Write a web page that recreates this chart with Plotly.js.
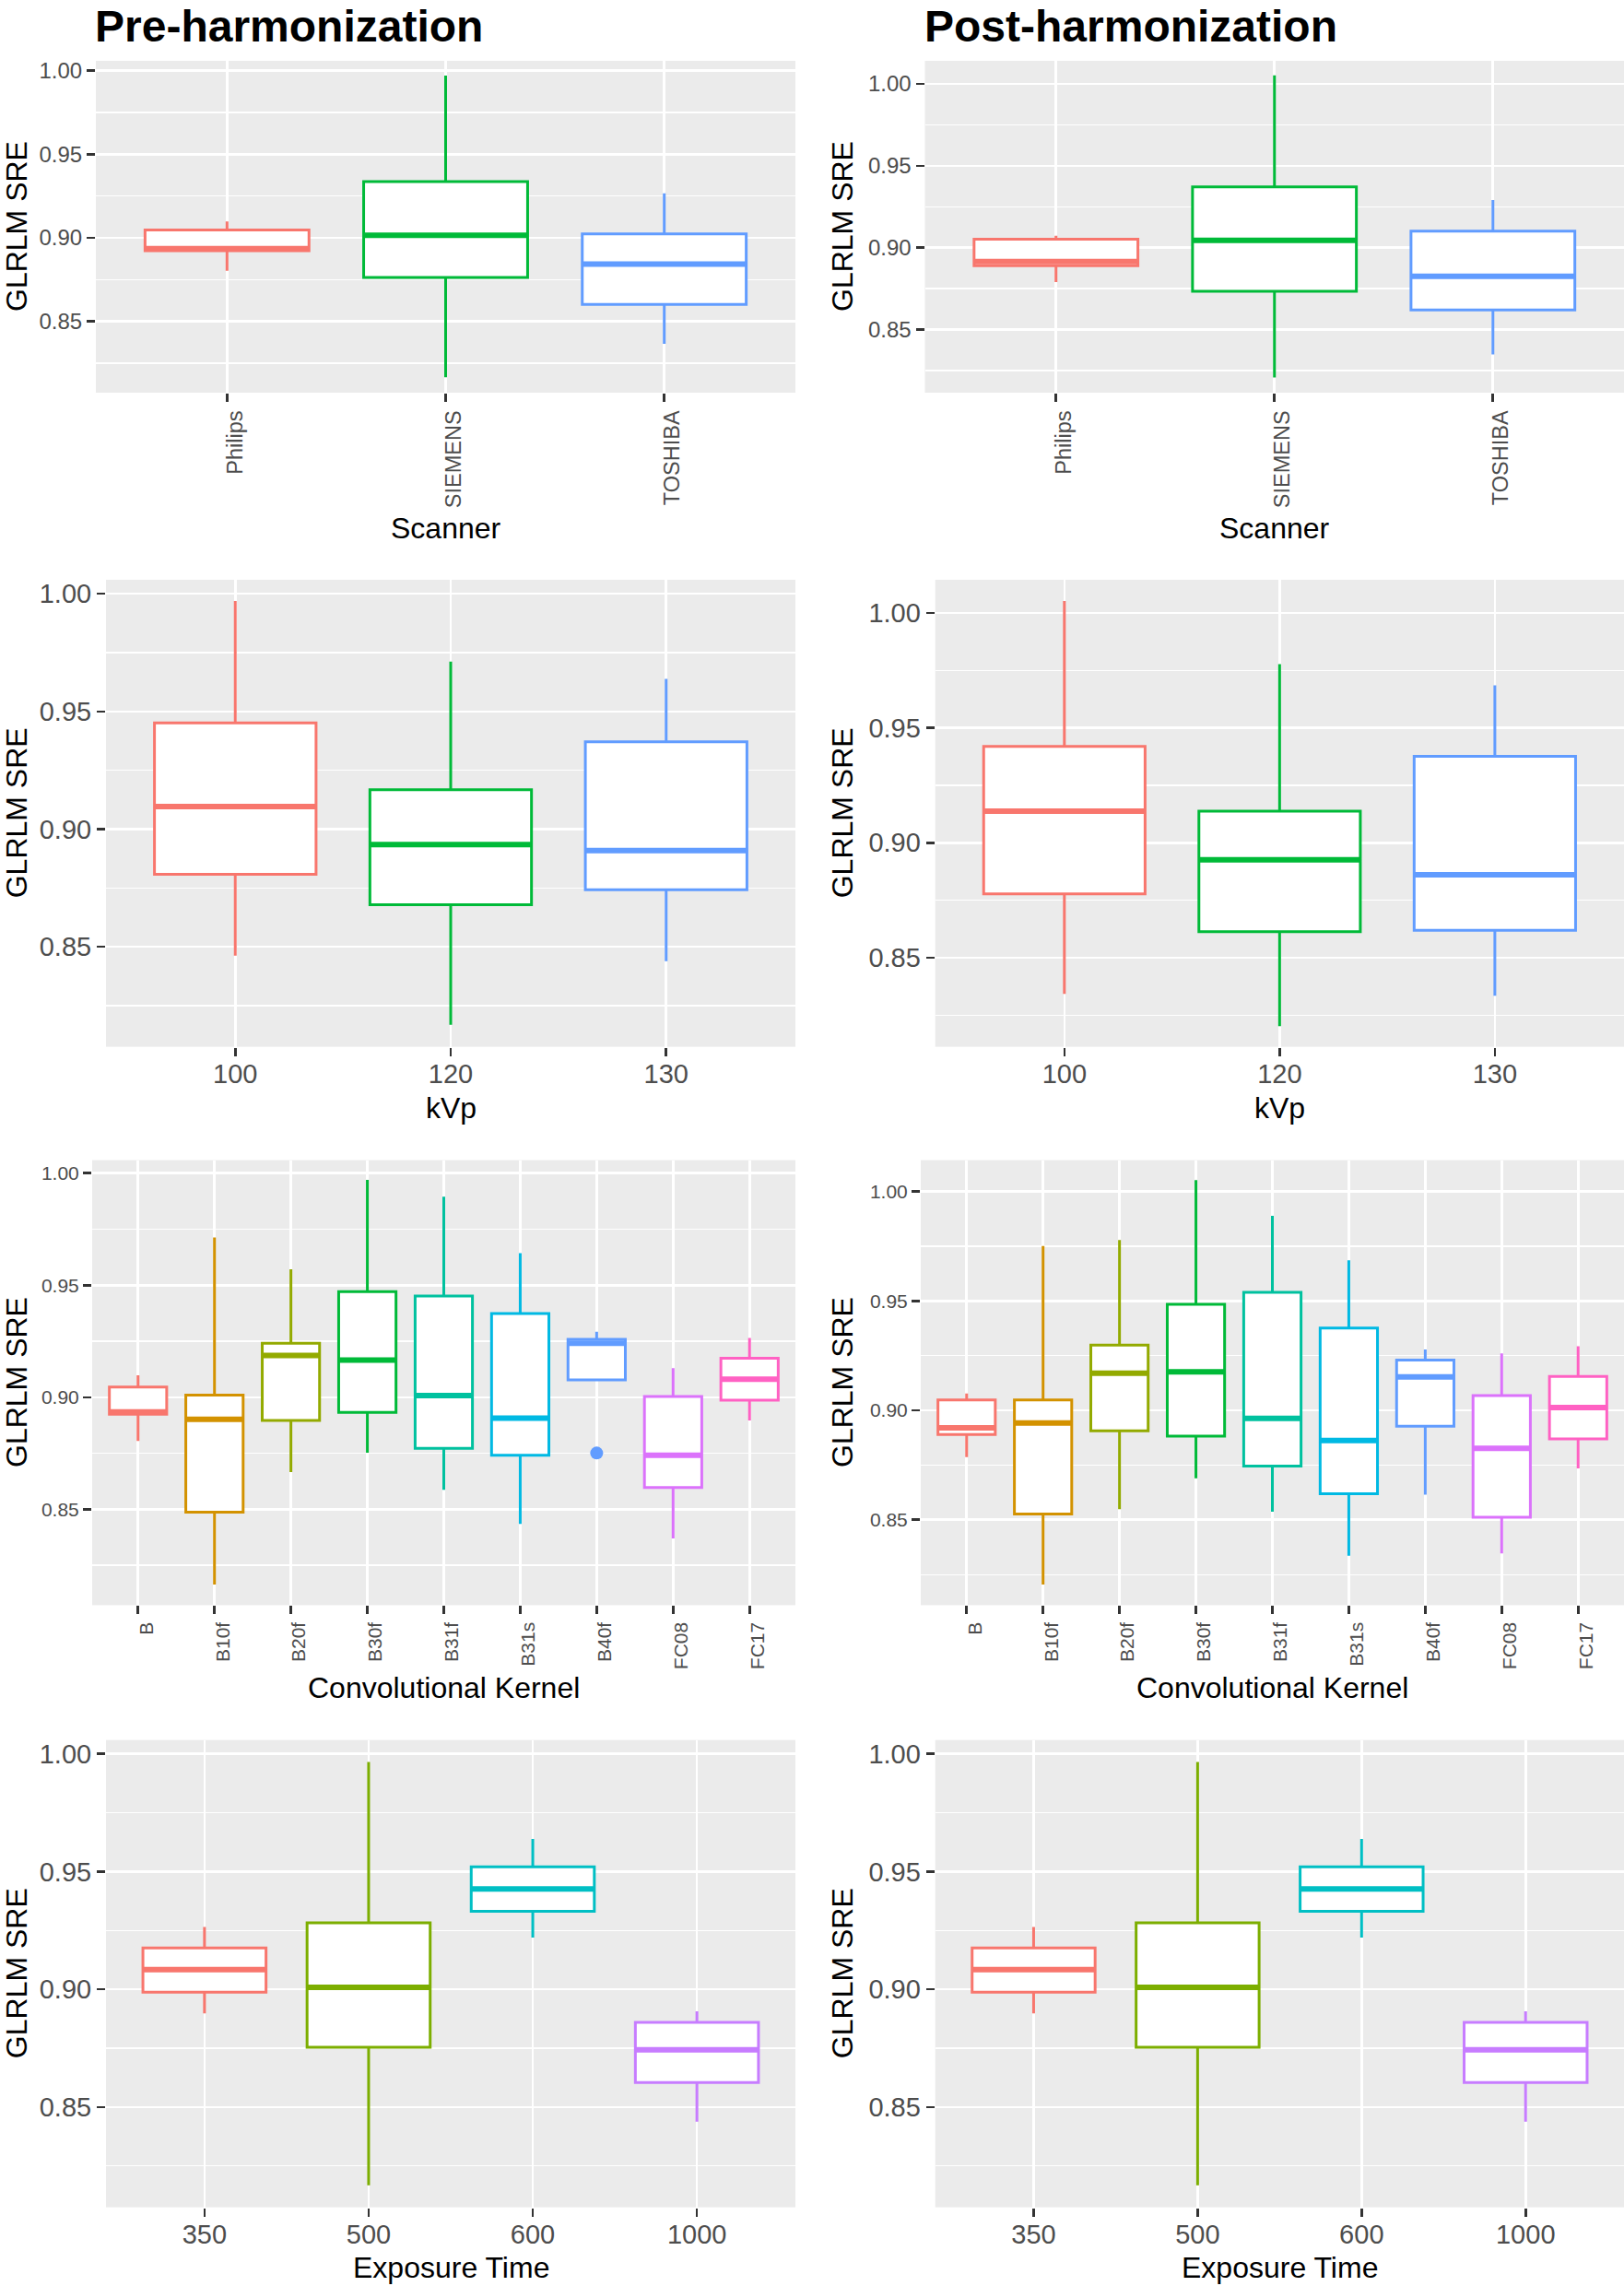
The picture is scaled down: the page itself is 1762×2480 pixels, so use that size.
<!DOCTYPE html>
<html><head><meta charset="utf-8">
<script src="https://cdn.plot.ly/plotly-3.0.1.min.js"></script>
<style>html,body{margin:0;padding:0;background:#fff;}</style>
</head><body><div id="chart" style="width:1762px;height:2480px;"></div>
<script>
// ---------------- DATA ----------------
const scannerCats = ['Philips', 'SIEMENS', 'TOSHIBA'];
const kvpCats = ['100', '120', '130'];
const kernelCats = ['B', 'B10f', 'B20f', 'B30f', 'B31f', 'B31s', 'B40f', 'FC08', 'FC17'];
const exposureCats = ['350', '500', '600', '1000'];

const colors3 = ['#F8766D', '#00BA38', '#619CFF'];
const colors9 = ['#F8766D', '#D39200', '#93AA00', '#00BA38', '#00C19F', '#00B9E3', '#619CFF', '#DB72FB', '#FF61C3'];
const colors4 = ['#F8766D', '#7CAE00', '#00BFC4', '#C77CFF'];

// Pre-harmonization, Scanner
const preScannerLower  = [0.8802, 0.8165, 0.8365];
const preScannerQ1     = [0.8922, 0.8762, 0.8601];
const preScannerMedian = [0.8935, 0.9015, 0.8842];
const preScannerQ3     = [0.9046, 0.9335, 0.9023];
const preScannerUpper  = [0.9097, 0.9970, 0.9266];
// Post-harmonization, Scanner
const postScannerLower  = [0.8789, 0.8207, 0.8347];
const postScannerQ1     = [0.8890, 0.8733, 0.8619];
const postScannerMedian = [0.8915, 0.9045, 0.8825];
const postScannerQ3     = [0.9052, 0.9371, 0.9101];
const postScannerUpper  = [0.9073, 1.0052, 0.9291];
// Pre, kVp
const preKvpLower  = [0.8462, 0.8168, 0.8439];
const preKvpQ1     = [0.8808, 0.8679, 0.8742];
const preKvpMedian = [0.9096, 0.8934, 0.8909];
const preKvpQ3     = [0.9451, 0.9167, 0.9371];
const preKvpUpper  = [0.9969, 0.9712, 0.9638];
// Post, kVp
const postKvpLower  = [0.8342, 0.8202, 0.8334];
const postKvpQ1     = [0.8777, 0.8613, 0.8619];
const postKvpMedian = [0.9137, 0.8926, 0.8861];
const postKvpQ3     = [0.9419, 0.9137, 0.9376];
const postKvpUpper  = [1.0052, 0.9777, 0.9685];
// Pre, Convolutional Kernel
const preKernelLower  = [0.8805, 0.8164, 0.8666, 0.8753, 0.8587, 0.8435, 0.9078, 0.8370, 0.8896];
const preKernelQ1     = [0.8924, 0.8487, 0.8896, 0.8932, 0.8772, 0.8741, 0.9078, 0.8597, 0.8987];
const preKernelMedian = [0.8935, 0.8902, 0.9187, 0.9166, 0.9008, 0.8907, 0.9241, 0.8741, 0.9081];
const preKernelQ3     = [0.9046, 0.9010, 0.9241, 0.9472, 0.9452, 0.9374, 0.9259, 0.9003, 0.9174];
const preKernelUpper  = [0.9098, 0.9713, 0.9571, 0.9970, 0.9895, 0.9643, 0.9293, 0.9130, 0.9265];
const preKernelOutlierX = ['B40f'];
const preKernelOutlierY = [0.8751];
// Post, Convolutional Kernel
const postKernelLower  = [0.8787, 0.8204, 0.8549, 0.8690, 0.8537, 0.8336, 0.8615, 0.8346, 0.8735];
const postKernelQ1     = [0.8890, 0.8527, 0.8907, 0.8882, 0.8745, 0.8619, 0.8928, 0.8512, 0.8870];
const postKernelMedian = [0.8920, 0.8942, 0.9170, 0.9176, 0.8963, 0.8862, 0.9153, 0.8827, 0.9013];
const postKernelQ3     = [0.9048, 0.9048, 0.9298, 0.9485, 0.9539, 0.9376, 0.9230, 0.9068, 0.9155];
const postKernelUpper  = [0.9077, 0.9751, 0.9778, 1.0052, 0.9889, 0.9686, 0.9278, 0.9260, 0.9293];
// Pre, Exposure Time
const preExpLower  = [0.8898, 0.8167, 0.9220, 0.8438];
const preExpQ1     = [0.8988, 0.8754, 0.9331, 0.8604];
const preExpMedian = [0.9084, 0.9008, 0.9426, 0.8743];
const preExpQ3     = [0.9176, 0.9282, 0.9520, 0.8859];
const preExpUpper  = [0.9265, 0.9966, 0.9639, 0.8906];
// Post, Exposure Time
const postExpLower  = [0.8898, 0.8167, 0.9220, 0.8438];
const postExpQ1     = [0.8988, 0.8754, 0.9331, 0.8604];
const postExpMedian = [0.9084, 0.9008, 0.9426, 0.8743];
const postExpQ3     = [0.9176, 0.9282, 0.9520, 0.8859];
const postExpUpper  = [0.9265, 0.9966, 0.9639, 0.8906];

const yTitle = 'GLRLM SRE';
const colTitles = ['Pre-harmonization', 'Post-harmonization'];

// ---------------- LAYOUT CONFIG ----------------
const W = 1762, H = 2480;
const fx = p => p / W;
const fy = p => 1 - p / H;
const FONT = 'Liberation Sans, Arial, Helvetica, sans-serif';

const panels = [
  {cats: scannerCats, colors: colors3, lo: preScannerLower, q1: preScannerQ1, md: preScannerMedian, q3: preScannerQ3, hi: preScannerUpper,
   px: [104, 863], py: [66, 426], yr: [0.8073, 1.0058], ytf: 24, xtf: 23.5, rot: true, xt: 'Scanner', ytx: 18, xty: 573},
  {cats: scannerCats, colors: colors3, lo: postScannerLower, q1: postScannerQ1, md: postScannerMedian, q3: postScannerQ3, hi: postScannerUpper,
   px: [1003.5, 1762], py: [66, 426], yr: [0.8114, 1.0141], ytf: 24, xtf: 23.5, rot: true, xt: 'Scanner', ytx: 914, xty: 573},
  {cats: kvpCats, colors: colors3, lo: preKvpLower, q1: preKvpQ1, md: preKvpMedian, q3: preKvpQ3, hi: preKvpUpper,
   px: [115, 863], py: [629, 1135.6], yr: [0.8075, 1.00595], ytf: 29, xtf: 29, rot: false, xt: 'kVp', ytx: 18, xty: 1201.6},
  {cats: kvpCats, colors: colors3, lo: postKvpLower, q1: postKvpQ1, md: postKvpMedian, q3: postKvpQ3, hi: postKvpUpper,
   px: [1014.7, 1762], py: [629, 1135.6], yr: [0.8112, 1.01445], ytf: 29, xtf: 29, rot: false, xt: 'kVp', ytx: 914, xty: 1201.6},
  {cats: kernelCats, colors: colors9, lo: preKernelLower, q1: preKernelQ1, md: preKernelMedian, q3: preKernelQ3, hi: preKernelUpper,
   outX: preKernelOutlierX, outY: preKernelOutlierY, outC: '#619CFF',
   px: [100, 863], py: [1258.6, 1741.4], yr: [0.8072, 1.00584], ytf: 21, xtf: 21, rot: true, xt: 'Convolutional Kernel', ytx: 18, xty: 1831},
  {cats: kernelCats, colors: colors9, lo: postKernelLower, q1: postKernelQ1, md: postKernelMedian, q3: postKernelQ3, hi: postKernelUpper,
   px: [999, 1762], py: [1258.6, 1741.4], yr: [0.811, 1.01432], ytf: 21, xtf: 21, rot: true, xt: 'Convolutional Kernel', ytx: 914, xty: 1831},
  {cats: exposureCats, colors: colors4, lo: preExpLower, q1: preExpQ1, md: preExpMedian, q3: preExpQ3, hi: preExpUpper,
   px: [115, 863], py: [1887.7, 2394.6], yr: [0.8074, 1.00587], ytf: 29, xtf: 29, rot: false, xt: 'Exposure Time', ytx: 18, xty: 2460},
  {cats: exposureCats, colors: colors4, lo: postExpLower, q1: postExpQ1, md: postExpMedian, q3: postExpQ3, hi: postExpUpper,
   px: [1014.7, 1762], py: [1887.7, 2394.6], yr: [0.8074, 1.00587], ytf: 29, xtf: 29, rot: false, xt: 'Exposure Time', ytx: 914, xty: 2460}
];

const traces = [];
const layout = {
  width: W, height: H,
  margin: {l: 0, r: 0, t: 0, b: 0, pad: 0},
  paper_bgcolor: '#FFFFFF',
  plot_bgcolor: '#EBEBEB',
  showlegend: false,
  boxmode: 'overlay',
  font: {family: FONT, color: '#000000'},
  annotations: []
};

panels.forEach((p, i) => {
  const n = i + 1;
  const xa = n === 1 ? 'x' : 'x' + n;
  const ya = n === 1 ? 'y' : 'y' + n;
  p.cats.forEach((c, j) => {
    traces.push({
      type: 'box', xaxis: xa, yaxis: ya,
      x: [c], q1: [p.q1[j]], median: [p.md[j]], q3: [p.q3[j]],
      lowerfence: [p.lo[j]], upperfence: [p.hi[j]],
      boxpoints: false, width: 0.75, whiskerwidth: 0,
      fillcolor: '#FFFFFF', line: {color: p.colors[j], width: 3},
      hoverinfo: 'skip'
    });
    // thick median (ggplot fatten = 2)
    traces.push({
      type: 'box', xaxis: xa, yaxis: ya,
      x: [c], q1: [p.md[j]], median: [p.md[j]], q3: [p.md[j]],
      lowerfence: [p.md[j]], upperfence: [p.md[j]],
      boxpoints: false, width: 0.75, whiskerwidth: 0,
      fillcolor: p.colors[j], line: {color: p.colors[j], width: 6},
      hoverinfo: 'skip'
    });
  });
  if (p.outX) {
    traces.push({
      type: 'scatter', mode: 'markers', xaxis: xa, yaxis: ya,
      x: p.outX, y: p.outY,
      marker: {color: p.outC, size: 14, line: {width: 0}},
      hoverinfo: 'skip', cliponaxis: false
    });
  }
  const xk = n === 1 ? 'xaxis' : 'xaxis' + n;
  const yk = n === 1 ? 'yaxis' : 'yaxis' + n;
  layout[xk] = {
    domain: [fx(p.px[0]), fx(p.px[1])],
    anchor: ya, type: 'category',
    categoryorder: 'array', categoryarray: p.cats,
    range: [-0.6, p.cats.length - 0.4],
    showgrid: true, gridcolor: '#FFFFFF', gridwidth: 2.6,
    zeroline: false, showline: false,
    ticks: 'outside', ticklen: 9, tickwidth: 2.6, tickcolor: '#333333',
    tickangle: p.rot ? -90 : 0,
    ticklabelshift: p.rot ? 9 : 0,
    ticklabelstandoff: p.rot ? 0 : -5,
    tickfont: {family: FONT, size: p.xtf, color: '#4D4D4D'},
    fixedrange: true
  };
  layout[yk] = {
    domain: [fy(p.py[1]), fy(p.py[0])],
    anchor: xa, type: 'linear',
    range: p.yr,
    tick0: 0.85, dtick: 0.05, tickformat: '.2f',
    showgrid: true, gridcolor: '#FFFFFF', gridwidth: 2.6,
    minor: {tick0: 0.825, dtick: 0.025, showgrid: true, gridcolor: '#FFFFFF', gridwidth: 1.3, ticks: ''},
    zeroline: false, showline: false,
    ticks: 'outside', ticklen: 9, tickwidth: 2.6, tickcolor: '#333333',
    tickfont: {family: FONT, size: p.ytf, color: '#4D4D4D'},
    fixedrange: true
  };
  // axis titles
  layout.annotations.push({
    xref: 'paper', yref: 'paper', x: fx(p.ytx), y: fy((p.py[0] + p.py[1]) / 2),
    text: yTitle, textangle: -90, showarrow: false,
    xanchor: 'center', yanchor: 'middle',
    font: {family: FONT, size: 32, color: '#000000'}
  });
  layout.annotations.push({
    xref: 'paper', yref: 'paper', x: fx((p.px[0] + p.px[1]) / 2), y: fy(p.xty),
    text: p.xt, showarrow: false,
    xanchor: 'center', yanchor: 'middle',
    font: {family: FONT, size: 32, color: '#000000'}
  });
});

// column headers
layout.annotations.push({
  xref: 'paper', yref: 'paper', x: fx(101), y: 1,
  text: '<b>' + colTitles[0] + '</b>', showarrow: false, xanchor: 'left', yanchor: 'top',
  font: {family: FONT, size: 48, color: '#000000'}
});
layout.annotations.push({
  xref: 'paper', yref: 'paper', x: fx(1001), y: 1,
  text: '<b>' + colTitles[1] + '</b>', showarrow: false, xanchor: 'left', yanchor: 'top',
  font: {family: FONT, size: 48, color: '#000000'}
});

Plotly.newPlot('chart', traces, layout, {staticPlot: true, displayModeBar: false});
</script>
</body></html>
